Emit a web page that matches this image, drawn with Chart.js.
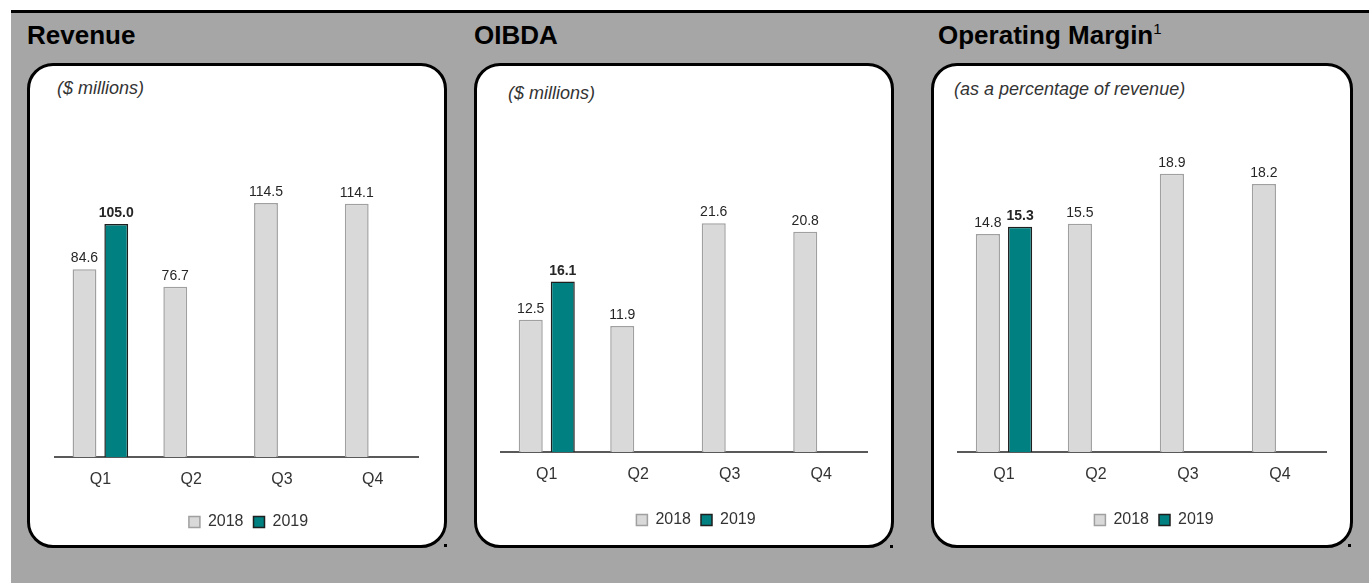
<!DOCTYPE html>
<html>
<head>
<meta charset="utf-8">
<script src="https://cdn.jsdelivr.net/npm/chart.js@4"></script>
<style>
  body { margin: 0; width: 1369px; height: 583px; background: #fff; position: relative; overflow: hidden;
         font-family: "Liberation Sans", Arial, sans-serif; }
  #bg { position: absolute; left: 11px; top: 10px; right: 0; bottom: 0; background: #a6a6a6; border-top: 3px solid #000; }
  .title { position: absolute; top: 22px; font-weight: bold; font-size: 26px; line-height: 26px; color: #000; }
  .title sup { font-weight: normal; font-size: 15px; vertical-align: 10px; line-height: 0; }
  .box { position: absolute; top: 63px; height: 485px; background: #fff; border: 3px solid #000;
         border-radius: 26px; box-sizing: border-box; }
  .sub { position: absolute; font-style: italic; font-size: 18px; line-height: 18px; color: #333; }
  canvas { position: absolute; }
  .dot { position: absolute; width: 3px; height: 3px; background: #000; }
</style>
</head>
<body>
<div id="bg"></div>

<div class="title" style="left:27px">Revenue</div>
<div class="title" style="left:474px">OIBDA</div>
<div class="title" style="left:938px">Operating Margin<sup>1</sup></div>

<div class="box" style="left:27px;width:420px"></div>
<div class="box" style="left:474px;width:420px"></div>
<div class="box" style="left:931px;width:422px"></div>

<div class="sub" style="left:57px;top:79px">($ millions)</div>
<div class="sub" style="left:508px;top:84px">($ millions)</div>
<div class="sub" style="left:954px;top:80px">(as a percentage of revenue)</div>

<canvas id="revenue-chart" width="414" height="446" style="left:30px;top:100px"></canvas>
<canvas id="oibda-chart" width="414" height="444" style="left:477px;top:100px"></canvas>
<canvas id="margin-chart" width="416" height="444" style="left:934px;top:100px"></canvas>

<div class="dot" style="left:444px;top:544px"></div>
<div class="dot" style="left:890px;top:545px"></div>
<div class="dot" style="left:1348px;top:544px"></div>

<script>
"use strict";

const QUARTERS = ["Q1", "Q2", "Q3", "Q4"];
const SERIES = ["2018", "2019"];

const revenue2018 = [84.6, 76.7, 114.5, 114.1];
const revenue2019 = [105.0, null, null, null];
const oibda2018 = [12.5, 11.9, 21.6, 20.8];
const oibda2019 = [16.1, null, null, null];
const margin2018 = [14.8, 15.5, 18.9, 18.2];
const margin2019 = [15.3, null, null, null];

const FONT = "'Liberation Sans', Arial, sans-serif";

// value above each bar, 2019 in bold
const valueLabels = {
  id: "valueLabels",
  afterDatasetsDraw(chart) {
    const { ctx } = chart;
    chart.data.datasets.forEach((ds, i) => {
      chart.getDatasetMeta(i).data.forEach((bar, j) => {
        const v = ds.data[j];
        if (v == null) return;
        ctx.save();
        ctx.font = (i === 1 ? "bold " : "") + "14px " + FONT;
        ctx.fillStyle = "#262626";
        ctx.textAlign = "center";
        ctx.textBaseline = "alphabetic";
        ctx.fillText(v.toFixed(1), bar.x, bar.y - 7);
        ctx.restore();
      });
    });
  },
};

// the legend sits a little right of centre in the original
const legendShift = {
  id: "legendShift",
  afterLayout(chart, args, opts) {
    chart.legend.left += opts.dx;
    chart.legend.right += opts.dx;
  },
};

function buildChart(id, data2018, data2019, yMax, xHeight, pad) {
  return new Chart(document.getElementById(id), {
    type: "bar",
    data: {
      labels: QUARTERS,
      datasets: [
        { label: SERIES[0], data: data2018, backgroundColor: "#d9d9d9", borderColor: "#a0a0a0", borderWidth: 1.5 },
        { label: SERIES[1], data: data2019, backgroundColor: "#008080", borderColor: "#1f1f1f", borderWidth: 1.5 },
      ],
    },
    options: {
      responsive: false,
      animation: false,
      events: [],
      layout: { padding: pad },
      datasets: { bar: { categoryPercentage: 0.7, barPercentage: 0.75 } },
      scales: {
        x: {
          grid: { display: false, drawTicks: false },
          border: { display: true, color: "#595959", width: 2 },
          ticks: { color: "#333", padding: 13, font: { family: FONT, size: 16 } },
          afterFit: (scale) => { scale.height = xHeight; },
        },
        y: { display: false, min: 0, max: yMax },
      },
      plugins: {
        legend: {
          position: "bottom",
          labels: { color: "#333", boxWidth: 11, boxHeight: 11, padding: 10, font: { family: FONT, size: 16 } },
        },
        tooltip: { enabled: false },
        legendShift: { dx: 12 },
      },
    },
    plugins: [valueLabels, legendShift],
  });
}

buildChart("revenue-chart", revenue2018, revenue2019, 156.4, 47, { left: 25, right: 26, top: 10, bottom: 6 });
buildChart("oibda-chart", oibda2018, oibda2019, 32.3, 50, { left: 24, right: 24, top: 10, bottom: 6 });
buildChart("margin-chart", margin2018, margin2019, 23.23, 50, { left: 24, right: 24, top: 10, bottom: 6 });
</script>
</body>
</html>
